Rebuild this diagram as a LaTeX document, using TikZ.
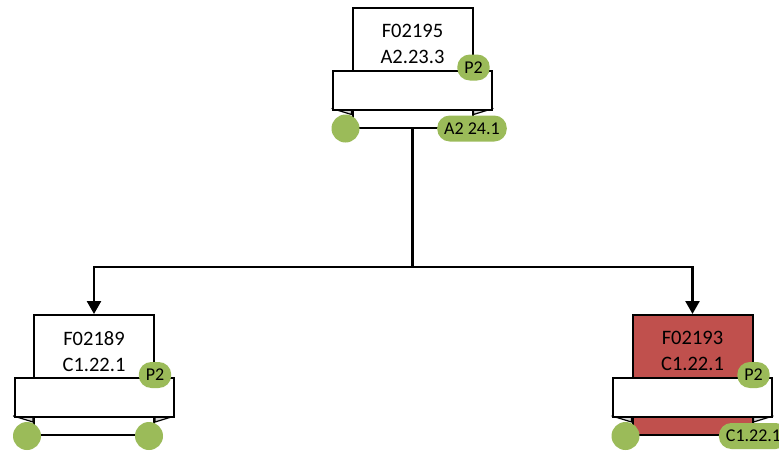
\documentclass[tikz,border=0pt]{standalone}
\usepackage{fontspec}
\setmainfont{Carlito}
\usetikzlibrary{arrows.meta,positioning,calc}
\definecolor{cardGreen}{RGB}{155,187,89}
\definecolor{cardRed}{RGB}{192,80,77}
\definecolor{foldGray}{RGB}{215,215,215}
\tikzset{
  cardbox/.style={draw=black, line width=2pt, fill=white, minimum width=120pt,
                  minimum height=120pt, inner sep=0pt},
  redcard/.style={cardbox, fill=cardRed},
  bandbox/.style={draw=black, line width=2pt, fill=white, minimum width=159pt,
                  minimum height=39pt, inner sep=0pt},
  cardtext/.style={align=center, inner sep=0pt, font=\fontsize{20.5}{26}\selectfont},
  tagpill/.style={fill=cardGreen, rounded corners=12.5pt, minimum height=26pt,
                  inner xsep=7pt, inner ysep=0pt, font=\fontsize{18}{20}\selectfont},
  pindot/.style={circle, fill=cardGreen, minimum size=28pt, inner sep=0pt},
  foldtri/.style={fill=foldGray, draw=black, line width=1.2pt, line join=round},
  linkarrow/.style={-{Triangle[length=13pt,width=14pt]}, line width=2.5pt}
}
\begin{document}
\begin{tikzpicture}[x=1pt, y=-1pt]
\useasboundingbox (0,0) rectangle (779,450);
% cards
\node[cardbox] (f02195) at (412.5,67.5) {};
\node[cardbox] (f02189) at (94,375) {};
\node[redcard] (f02193) at (692.5,375) {};
\foreach \c in {f02195,f02189,f02193} {
  \filldraw[foldtri] ($(\c.north west)+(0,102)$) -- ++(-19.5,0) -- ++(19.5,6) -- cycle;
  \filldraw[foldtri] ($(\c.north east)+(0,102)$) -- ++(19.5,0) -- ++(-19.5,6) -- cycle;
  \node[bandbox, below=63pt of \c.north] (\c-band) {};
}
\node[cardtext, below=17pt of f02195.north] (f02195-txt) {F02195\\A2.23.3};
\node[cardtext, below=17pt of f02189.north] (f02189-txt) {F02189\\C1.22.1};
\node[cardtext, below=17pt of f02193.north] (f02193-txt) {F02193\\C1.22.1};
% links
\draw[linkarrow] (f02195.south) -- ++(0,138.5) -| (f02189.north);
\draw[linkarrow] (f02195.south) -- ++(0,138.5) -| (f02193.north);
% tags
\node[tagpill] (f02195-p) at (f02195.east) {P2};
\node[tagpill] (f02189-p) at (f02189.east) {P2};
\node[tagpill] (f02193-p) at (f02193.east) {P2};
\node[pindot, xshift=-6pt] (f02195-l) at (f02195.south west) {};
\node[tagpill, xshift=-1.5pt] (f02195-r) at (f02195.south east) {A2 24.1};
\node[pindot, xshift=-6pt] (f02189-l) at (f02189.south west) {};
\node[pindot, xshift=-6pt] (f02189-r) at (f02189.south east) {};
\node[pindot, xshift=-6pt] (f02193-l) at (f02193.south west) {};
\node[tagpill] (f02193-r) at (f02193.south east) {C1.22.1};
\end{tikzpicture}
\end{document}
